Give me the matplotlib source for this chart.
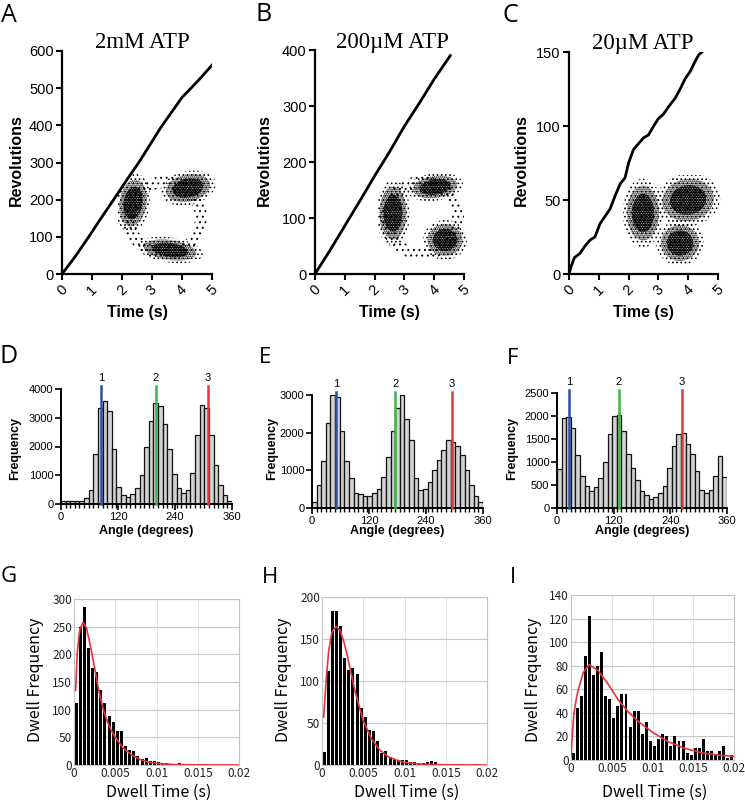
import numpy as np
import matplotlib
matplotlib.use("Agg")
import matplotlib.pyplot as plt
from matplotlib.patches import Ellipse, Annulus

# ---------------- data ----------------
# Row 1: revolutions vs time
time_A = [0, 0.45, 0.89, 1.3, 1.72, 2.15, 2.56, 2.95, 3.3, 3.65, 4.0, 4.3, 4.65, 5.0]
rev_A = [0, 48, 100, 150, 200, 252, 300, 350, 395, 435, 475, 500, 530, 562]
time_B = [0, 0.5, 1.0, 1.5, 2.0, 2.5, 3.0, 3.5, 4.0, 4.54]
rev_B = [0, 42, 86, 130, 175, 218, 264, 305, 348, 390]
time_C = [0, 0.07, 0.18, 0.37, 0.54, 0.71, 0.87, 1.04, 1.21, 1.38, 1.55, 1.72, 1.88,
          2.0, 2.16, 2.33, 2.5, 2.67, 2.84, 3.0, 3.17, 3.34, 3.57, 3.73, 3.9, 4.07,
          4.24, 4.35, 4.46]
rev_C = [0, 5, 11, 14, 19, 23, 25, 34, 39, 44, 53, 61, 65, 75, 84, 88, 92, 94, 100,
         105, 108, 113, 119, 125, 132, 137, 144, 148, 150]
titles = ["2mM ATP", "200\u00b5M ATP", "20\u00b5M ATP"]

# inset clusters: (cx, cy, width, height, angle) in inset px units
clusters_A = [(15, 35, 27, 47, 8), (70, 20, 45, 27, -12), (52, 82, 53, 20, 8)]
ring_A = (47, 50, 42, 12)
clusters_B = [(15, 43, 27, 53, 0), (57, 17, 45, 22, -8), (67, 70, 35, 32, 0)]
ring_B = (44, 48, 42, 12)
clusters_C = [(21, 38, 32, 55, 0), (66, 25, 52, 42, -10), (58, 68, 38, 36, 0)]
ring_C = None

# Row 2: angle histograms (37 bins, 0-360 deg)
angle_D = [100, 120, 100, 100, 100, 200, 500, 1750, 3350, 3600, 3250, 1900, 600, 300,
           250, 350, 550, 1000, 2000, 2900, 3500, 3400, 2800, 1900, 1050, 550, 400,
           500, 1080, 2400, 3450, 3350, 2400, 1350, 650, 300, 100]
angle_E = [150, 600, 1250, 2250, 3000, 2950, 2050, 1250, 800, 400, 370, 330, 330, 400,
           500, 820, 1350, 2050, 2650, 3000, 2350, 1800, 800, 480, 500, 700, 1000,
           1280, 1550, 1800, 1750, 1650, 1400, 1000, 600, 330, 150]
angle_F = [850, 1950, 1970, 1750, 1150, 700, 480, 380, 450, 650, 1000, 1600, 2000,
           2020, 1670, 1170, 870, 600, 380, 280, 200, 230, 320, 480, 880, 1350, 1600,
           1620, 1400, 1170, 800, 400, 330, 400, 700, 1130, 680]
marks_D = [84, 199, 309]
marks_E = [50, 175, 294]
marks_F = [26, 131, 264]
mark_labels = ["1", "2", "3"]
mark_colors = ["#2f4fa0", "#3db54a", "#e0393e"]

# Row 3: dwell time histograms (40 bins of 0.5 ms)
dwell_G = [112, 250, 285, 212, 175, 168, 136, 112, 88, 77, 62, 62, 35, 28, 25, 16, 10,
           12, 8, 8, 5, 4, 3, 2, 2, 3, 2, 1, 0, 0, 0, 0, 0, 0, 0, 0, 0, 0, 0, 0]
dwell_H = [15, 112, 183, 183, 165, 127, 113, 115, 108, 68, 57, 42, 40, 28, 14, 17, 10,
           7, 5, 6, 6, 3, 3, 2, 2, 3, 5, 3, 1, 1, 0, 0, 0, 0, 0, 0, 0, 1, 0, 0]
dwell_I = [6, 44, 54, 88, 122, 72, 80, 92, 54, 52, 36, 46, 56, 56, 28, 42, 42, 22, 32,
           16, 12, 18, 22, 20, 12, 20, 16, 16, 6, 4, 10, 10, 18, 8, 8, 4, 8, 12, 2, 4]
fit_G_t = [0.0002, 0.0004, 0.0007, 0.0011, 0.0015, 0.002, 0.0025, 0.003, 0.0035, 0.004,
           0.0045, 0.005, 0.006, 0.007, 0.008, 0.009, 0.01, 0.012, 0.015, 0.02]
fit_G_y = [135, 205, 245, 258, 248, 215, 175, 135, 103, 80, 63, 50, 30, 18, 10, 5, 3,
           1, 0.3, 0]
fit_H_t = [0.0002, 0.0005, 0.0008, 0.0012, 0.0017, 0.0022, 0.0027, 0.003, 0.0035, 0.004,
           0.0045, 0.005, 0.006, 0.007, 0.008, 0.009, 0.01, 0.012, 0.015, 0.02]
fit_H_y = [57, 100, 135, 158, 165, 160, 145, 133, 110, 88, 70, 53, 31, 18, 10, 6, 3, 1,
           0.3, 0]
fit_I_t = [0.0, 0.0002, 0.00037, 0.0006, 0.00086, 0.0015, 0.0022, 0.0033, 0.0045,
           0.0058, 0.007, 0.0082, 0.0099, 0.0119, 0.0139, 0.016, 0.018, 0.02]
fit_I_y = [3, 25, 40, 50, 59, 74, 81, 76, 65, 51, 41, 33, 24, 15.6, 10, 6.2, 4.2, 3]

# ---------------- figure ----------------
W, H = 745, 800
fig = plt.figure(figsize=(W / 100, H / 100), dpi=100)
plt.rcParams["hatch.linewidth"] = 0.6

SANS = "Liberation Sans"
LET = "Open Sans"
JP = ["Noto Sans CJK JP", "DejaVu Sans"]


def ax_px(l, t, r, b):
    return fig.add_axes([l / W, 1 - b / H, (r - l) / W, (b - t) / H])


def ftext(x, y, s, **kw):
    return fig.text(x / W, 1 - y / H, s, **kw)


def stipple(iax, patch, hlw):
    with plt.rc_context({"hatch.linewidth": hlw}):
        iax.add_patch(patch)
        if hasattr(patch, "set_hatch_linewidth"):
            patch.set_hatch_linewidth(hlw)


def rev_panel(box, t, rev, ymax, ystep, title, tpos, letter, lpos, ylab_x, clusters,
              ring, ibox):
    ax = ax_px(*box)
    ax.plot(t, rev, color="black", lw=2.0, solid_joinstyle="round")
    ax.set_xlim(0, 5)
    ax.set_ylim(0, ymax)
    ax.set_xticks(range(6))
    ax.set_yticks(np.arange(0, ymax + 1, ystep))
    for s in ["top", "right"]:
        ax.spines[s].set_visible(False)
    for s in ["left", "bottom"]:
        ax.spines[s].set_linewidth(1.6)
    ax.tick_params(width=1.5, length=4, labelsize=10.5, pad=2)
    for lab in ax.get_xticklabels() + ax.get_yticklabels():
        lab.set_fontfamily(SANS)
    for lab in ax.get_xticklabels():
        lab.set_rotation(45)
        lab.set_ha("center")
    cx = (box[0] + box[2]) / 2
    ftext(cx, 313, "Time (s)", ha="center", va="center", fontsize=11.5,
          fontweight="bold", family=SANS)
    ftext(ylab_x, 160, "Revolutions", ha="center", va="center", rotation=90,
          fontsize=11.5, fontweight="bold", family=SANS)
    ftext(tpos[0], tpos[1], title, ha="center", va="baseline", fontsize=16.5,
          family="Liberation Serif")
    ftext(lpos[0], lpos[1], letter, ha="left", va="baseline", fontsize=18, family=LET)
    # inset scatter of bead positions (stippled regions)
    iax = ax_px(*ibox)
    iax.set_xlim(0, 100)
    iax.set_ylim(100, 0)
    iax.axis("off")
    iax.patch.set_alpha(0)
    if ring is not None:
        stipple(iax, Annulus((ring[0], ring[1]), ring[2], ring[3], fill=False,
                             ec="black", lw=0, hatch="..."), 0.7)
    for (x, y, w, h, a) in clusters:
        stipple(iax, Ellipse((x, y), w * 1.25, h * 1.25, angle=a, fill=False,
                             ec="black", lw=0, hatch="...."), 0.7)
        stipple(iax, Ellipse((x, y), w, h, angle=a, fill=False, ec="black", lw=0,
                             hatch="........"), 0.9)
        stipple(iax, Ellipse((x, y), w * 0.7, h * 0.7, angle=a, fill=False,
                             ec="black", lw=0, hatch=".........."), 1.3)
    return ax


rev_panel((62, 51, 212, 274), time_A, rev_A, 600, 100, titles[0], (142, 48), "A",
          (1, 22), 16, clusters_A, ring_A, (118, 168, 218, 268))
rev_panel((315, 50, 464, 274), time_B, rev_B, 400, 100, titles[1], (392, 48), "B",
          (256, 21), 264, clusters_B, ring_B, (378, 170, 478, 270))
rev_panel((569, 52, 718, 274), time_C, rev_C, 150, 50, titles[2], (643, 49), "C",
          (502, 22), 521, clusters_C, ring_C, (622, 175, 722, 275))


def angle_panel(box, counts, ymax, ystep, marks, letter, lpos, ylab_x, lsize):
    ax = ax_px(*box)
    n = len(counts)
    w = 360 / n
    x = np.arange(n) * w
    ax.bar(x, counts, width=w, align="edge", color="#d2d2d2", edgecolor="#111111",
           lw=0.9)
    for ang, col, lab in zip(marks, mark_colors, mark_labels):
        ax.plot([ang, ang], [0, ymax * 1.03], color=col, lw=1.8, clip_on=False,
                zorder=4)
        ax.text(ang, ymax * 1.05, lab, ha="center", va="bottom", fontsize=8,
                family=SANS)
    ax.set_xlim(0, 360)
    ax.set_ylim(0, ymax)
    ax.set_xticks([0, 120, 240, 360])
    ax.set_xticks(np.arange(n + 1) * w, minor=True)
    ax.set_yticks(np.arange(0, ymax + 1, ystep))
    for s in ["top", "right"]:
        ax.spines[s].set_visible(False)
    for s in ["left", "bottom"]:
        ax.spines[s].set_linewidth(1.4)
    ax.tick_params(which="major", width=1.2, length=4, labelsize=8, pad=1.5)
    ax.tick_params(which="minor", width=1.0, length=3)
    for lab in ax.get_xticklabels() + ax.get_yticklabels():
        lab.set_fontfamily(SANS)
    cx = (box[0] + box[2]) / 2
    ftext(cx, 531, "Angle (degrees)", ha="center", va="center", fontsize=9,
          fontweight="bold", family=SANS)
    ftext(ylab_x, 448, "Frequency", ha="center", va="center", rotation=90,
          fontsize=9, fontweight="bold", family=SANS)
    ftext(lpos[0], lpos[1], letter, ha="left", va="baseline", fontsize=lsize,
          family=LET)
    return ax


angle_panel((61, 389, 232, 504), angle_D, 4000, 1000, marks_D, "D", (0, 363), 15, 18)
angle_panel((312, 395, 483, 508), angle_E, 3000, 1000, marks_E, "E", (259, 363), 272,
            16)
angle_panel((557, 393, 727, 508), angle_F, 2500, 500, marks_F, "F", (507, 364), 512,
            16)


def dwell_panel(box, counts, ft, fy, ymax, ystep, letter, lpos, ylab_x):
    ax = ax_px(*box)
    n = len(counts)
    bw = 0.02 / n
    centers = (np.arange(n) + 0.5) * bw
    ax.bar(centers, counts, width=bw * 0.72, color="black", zorder=2)
    ax.plot(ft, fy, color="#e8343a", lw=1.2, zorder=3)
    ax.set_xlim(0, 0.02)
    ax.set_ylim(0, ymax)
    xt = [0, 0.005, 0.01, 0.015, 0.02]
    ax.set_xticks(xt)
    ax.set_xticklabels(["0", "0.005", "0.01", "0.015", "0.02"])
    ax.set_yticks(np.arange(0, ymax + 1, ystep))
    ax.grid(axis="y", color="#c8c8c8", lw=0.8, zorder=0)
    ax.grid(axis="x", color="#e2e2e2", lw=0.7, zorder=0)
    ax.set_axisbelow(True)
    for s in ax.spines.values():
        s.set_color("#c4c4c4")
        s.set_linewidth(0.8)
    ax.tick_params(length=0, labelsize=8.5, pad=1.5, colors="#222222")
    for lab in ax.get_xticklabels() + ax.get_yticklabels():
        lab.set_fontfamily(JP)
    cx = (box[0] + box[2]) / 2
    ftext(cx + 2, 792, "Dwell Time (s)", ha="center", va="center", fontsize=11.5,
          family=JP)
    ftext(ylab_x, 680, "Dwell Frequency", ha="center", va="center", rotation=90,
          fontsize=11.5, family=JP)
    ftext(lpos[0], lpos[1], letter, ha="left", va="baseline", fontsize=16, family=LET)
    return ax


dwell_panel((74, 599, 239, 765), dwell_G, fit_G_t, fit_G_y, 300, 50, "G", (1, 582), 36)
dwell_panel((322, 597, 487, 765), dwell_H, fit_H_t, fit_H_y, 200, 50, "H", (262, 583),
            284)
dwell_panel((571, 595, 734, 760), dwell_I, fit_I_t, fit_I_y, 140, 20, "I", (510, 583),
            534)

fig.savefig("out.png", dpi=100)
